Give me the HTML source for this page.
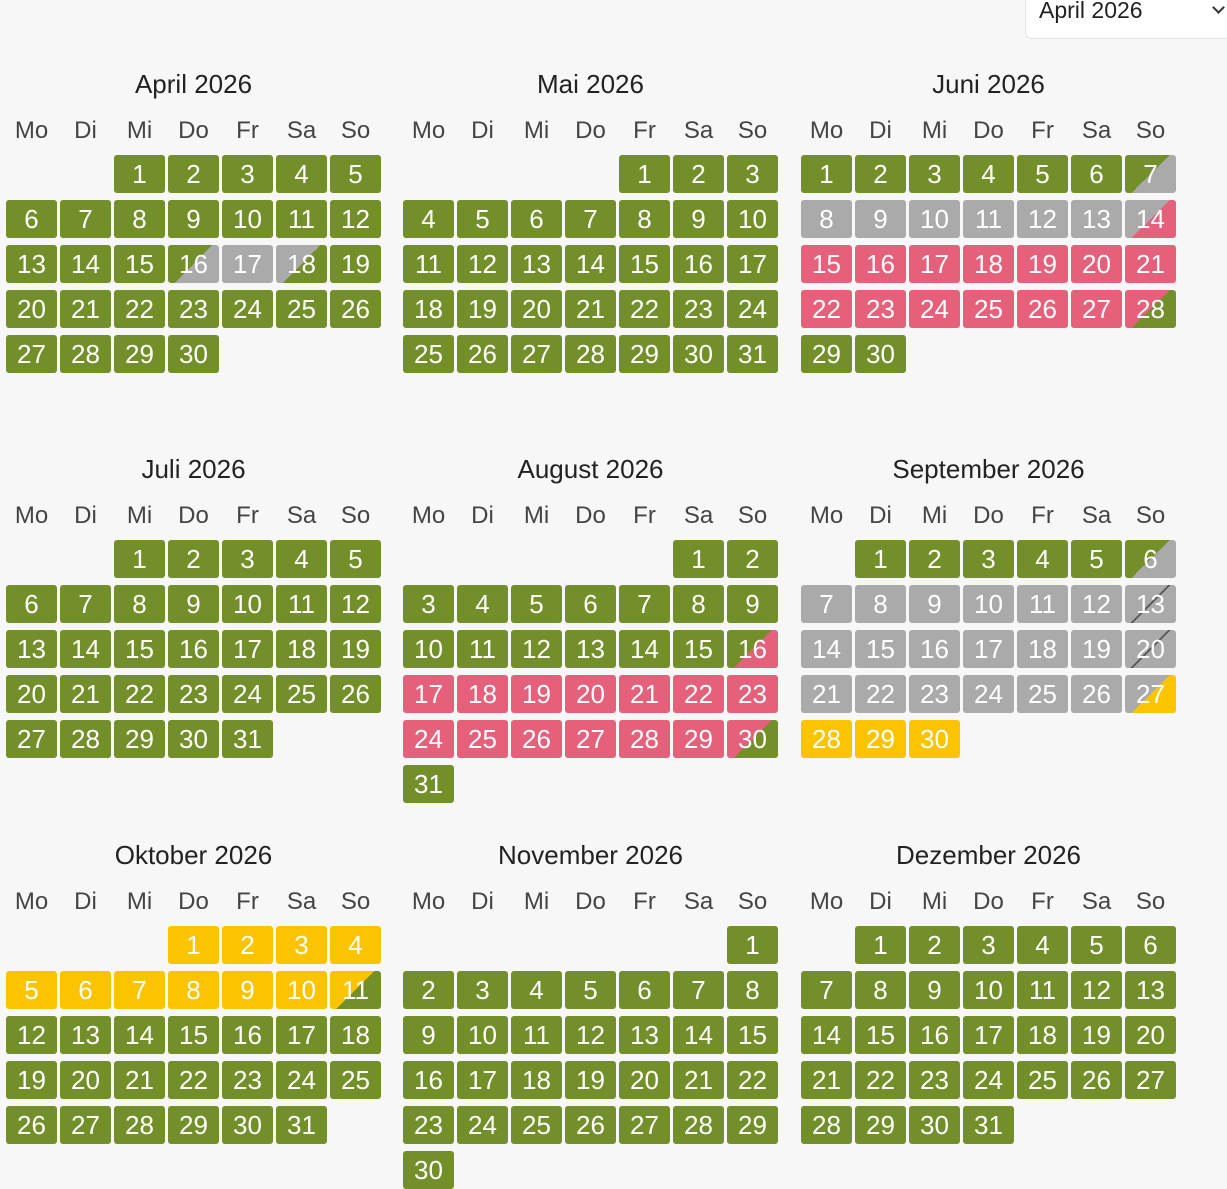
<!DOCTYPE html>
<html><head><meta charset="utf-8"><style>
body{margin:0;width:1227px;height:1151px;background:#f7f7f7;overflow:hidden;position:relative;font-family:"Liberation Sans",sans-serif}
.sel{position:absolute;left:1025px;top:-10px;width:220px;height:47px;background:#fff;border:1px solid #e2e2e2;border-radius:7px}
.sel span{position:absolute;left:13px;top:6px;font-size:23px;color:#222}
.sel b{position:absolute;left:188px;top:12px;width:7px;height:7px;border-right:2px solid #333;border-bottom:2px solid #333;transform:rotate(45deg)}
.m{position:absolute;width:375px}
.t{position:absolute;top:-86px;left:0;width:375px;text-align:center;font-size:26px;color:#222}
.h{position:absolute;top:-38px;left:0;display:grid;grid-template-columns:repeat(7,51px);column-gap:3px;font-size:24px;color:#444;text-align:center}
.g0{display:grid;grid-template-columns:repeat(7,51px);grid-auto-rows:38px;column-gap:3px;row-gap:7px}
.g0 div{border-radius:3px;color:#fff;font-size:26px;text-align:center;line-height:38px;background:#738f2a}
.g0 .x{background:#aaa}.g0 .r{background:#e5607a}.g0 .y{background:#fcc400}
.g0 .gx{background:linear-gradient(135deg,#738f2a 50%,#aaa 50%)}
.g0 .xg{background:linear-gradient(135deg,#aaa 50%,#738f2a 50%)}
.g0 .xr{background:linear-gradient(135deg,#aaa 50%,#e5607a 50%)}
.g0 .rg{background:linear-gradient(135deg,#e5607a 50%,#738f2a 50%)}
.g0 .gr{background:linear-gradient(135deg,#738f2a 50%,#e5607a 50%)}
.g0 .xy{background:linear-gradient(135deg,#aaa 50%,#fcc400 50%)}
.g0 .yg{background:linear-gradient(135deg,#fcc400 50%,#738f2a 50%)}
.g0 .xd{background:linear-gradient(135deg,#aaa 48.5%,#555 48.5%,#555 51.5%,#aaa 51.5%)}
</style></head><body>
<div class="sel"><span>April 2026</span><b></b></div>

<div class="m" style="left:6px;top:155px"><div class="t">April 2026</div><div class="h"><span>Mo</span><span>Di</span><span>Mi</span><span>Do</span><span>Fr</span><span>Sa</span><span>So</span></div><div class="g0">
<i></i><i></i><div>1</div><div>2</div><div>3</div><div>4</div><div>5</div>
<div>6</div><div>7</div><div>8</div><div>9</div><div>10</div><div>11</div><div>12</div>
<div>13</div><div>14</div><div>15</div><div class="gx">16</div><div class="x">17</div><div class="xg">18</div><div>19</div>
<div>20</div><div>21</div><div>22</div><div>23</div><div>24</div><div>25</div><div>26</div>
<div>27</div><div>28</div><div>29</div><div>30</div>
</div></div>

<div class="m" style="left:403px;top:155px"><div class="t">Mai 2026</div><div class="h"><span>Mo</span><span>Di</span><span>Mi</span><span>Do</span><span>Fr</span><span>Sa</span><span>So</span></div><div class="g0">
<i></i><i></i><i></i><i></i><div>1</div><div>2</div><div>3</div>
<div>4</div><div>5</div><div>6</div><div>7</div><div>8</div><div>9</div><div>10</div>
<div>11</div><div>12</div><div>13</div><div>14</div><div>15</div><div>16</div><div>17</div>
<div>18</div><div>19</div><div>20</div><div>21</div><div>22</div><div>23</div><div>24</div>
<div>25</div><div>26</div><div>27</div><div>28</div><div>29</div><div>30</div><div>31</div>
</div></div>

<div class="m" style="left:801px;top:155px"><div class="t">Juni 2026</div><div class="h"><span>Mo</span><span>Di</span><span>Mi</span><span>Do</span><span>Fr</span><span>Sa</span><span>So</span></div><div class="g0">
<div>1</div><div>2</div><div>3</div><div>4</div><div>5</div><div>6</div><div class="gx">7</div>
<div class="x">8</div><div class="x">9</div><div class="x">10</div><div class="x">11</div><div class="x">12</div><div class="x">13</div><div class="xr">14</div>
<div class="r">15</div><div class="r">16</div><div class="r">17</div><div class="r">18</div><div class="r">19</div><div class="r">20</div><div class="r">21</div>
<div class="r">22</div><div class="r">23</div><div class="r">24</div><div class="r">25</div><div class="r">26</div><div class="r">27</div><div class="rg">28</div>
<div>29</div><div>30</div>
</div></div>

<div class="m" style="left:6px;top:540px"><div class="t">Juli 2026</div><div class="h"><span>Mo</span><span>Di</span><span>Mi</span><span>Do</span><span>Fr</span><span>Sa</span><span>So</span></div><div class="g0">
<i></i><i></i><div>1</div><div>2</div><div>3</div><div>4</div><div>5</div>
<div>6</div><div>7</div><div>8</div><div>9</div><div>10</div><div>11</div><div>12</div>
<div>13</div><div>14</div><div>15</div><div>16</div><div>17</div><div>18</div><div>19</div>
<div>20</div><div>21</div><div>22</div><div>23</div><div>24</div><div>25</div><div>26</div>
<div>27</div><div>28</div><div>29</div><div>30</div><div>31</div>
</div></div>

<div class="m" style="left:403px;top:540px"><div class="t">August 2026</div><div class="h"><span>Mo</span><span>Di</span><span>Mi</span><span>Do</span><span>Fr</span><span>Sa</span><span>So</span></div><div class="g0">
<i></i><i></i><i></i><i></i><i></i><div>1</div><div>2</div>
<div>3</div><div>4</div><div>5</div><div>6</div><div>7</div><div>8</div><div>9</div>
<div>10</div><div>11</div><div>12</div><div>13</div><div>14</div><div>15</div><div class="gr">16</div>
<div class="r">17</div><div class="r">18</div><div class="r">19</div><div class="r">20</div><div class="r">21</div><div class="r">22</div><div class="r">23</div>
<div class="r">24</div><div class="r">25</div><div class="r">26</div><div class="r">27</div><div class="r">28</div><div class="r">29</div><div class="rg">30</div>
<div>31</div>
</div></div>

<div class="m" style="left:801px;top:540px"><div class="t">September 2026</div><div class="h"><span>Mo</span><span>Di</span><span>Mi</span><span>Do</span><span>Fr</span><span>Sa</span><span>So</span></div><div class="g0">
<i></i><div>1</div><div>2</div><div>3</div><div>4</div><div>5</div><div class="gx">6</div>
<div class="x">7</div><div class="x">8</div><div class="x">9</div><div class="x">10</div><div class="x">11</div><div class="x">12</div><div class="xd">13</div>
<div class="x">14</div><div class="x">15</div><div class="x">16</div><div class="x">17</div><div class="x">18</div><div class="x">19</div><div class="xd">20</div>
<div class="x">21</div><div class="x">22</div><div class="x">23</div><div class="x">24</div><div class="x">25</div><div class="x">26</div><div class="xy">27</div>
<div class="y">28</div><div class="y">29</div><div class="y">30</div>
</div></div>

<div class="m" style="left:6px;top:926px"><div class="t">Oktober 2026</div><div class="h"><span>Mo</span><span>Di</span><span>Mi</span><span>Do</span><span>Fr</span><span>Sa</span><span>So</span></div><div class="g0">
<i></i><i></i><i></i><div class="y">1</div><div class="y">2</div><div class="y">3</div><div class="y">4</div>
<div class="y">5</div><div class="y">6</div><div class="y">7</div><div class="y">8</div><div class="y">9</div><div class="y">10</div><div class="yg">11</div>
<div>12</div><div>13</div><div>14</div><div>15</div><div>16</div><div>17</div><div>18</div>
<div>19</div><div>20</div><div>21</div><div>22</div><div>23</div><div>24</div><div>25</div>
<div>26</div><div>27</div><div>28</div><div>29</div><div>30</div><div>31</div>
</div></div>

<div class="m" style="left:403px;top:926px"><div class="t">November 2026</div><div class="h"><span>Mo</span><span>Di</span><span>Mi</span><span>Do</span><span>Fr</span><span>Sa</span><span>So</span></div><div class="g0">
<i></i><i></i><i></i><i></i><i></i><i></i><div>1</div>
<div>2</div><div>3</div><div>4</div><div>5</div><div>6</div><div>7</div><div>8</div>
<div>9</div><div>10</div><div>11</div><div>12</div><div>13</div><div>14</div><div>15</div>
<div>16</div><div>17</div><div>18</div><div>19</div><div>20</div><div>21</div><div>22</div>
<div>23</div><div>24</div><div>25</div><div>26</div><div>27</div><div>28</div><div>29</div>
<div>30</div>
</div></div>

<div class="m" style="left:801px;top:926px"><div class="t">Dezember 2026</div><div class="h"><span>Mo</span><span>Di</span><span>Mi</span><span>Do</span><span>Fr</span><span>Sa</span><span>So</span></div><div class="g0">
<i></i><div>1</div><div>2</div><div>3</div><div>4</div><div>5</div><div>6</div>
<div>7</div><div>8</div><div>9</div><div>10</div><div>11</div><div>12</div><div>13</div>
<div>14</div><div>15</div><div>16</div><div>17</div><div>18</div><div>19</div><div>20</div>
<div>21</div><div>22</div><div>23</div><div>24</div><div>25</div><div>26</div><div>27</div>
<div>28</div><div>29</div><div>30</div><div>31</div>
</div></div>
</body></html>
